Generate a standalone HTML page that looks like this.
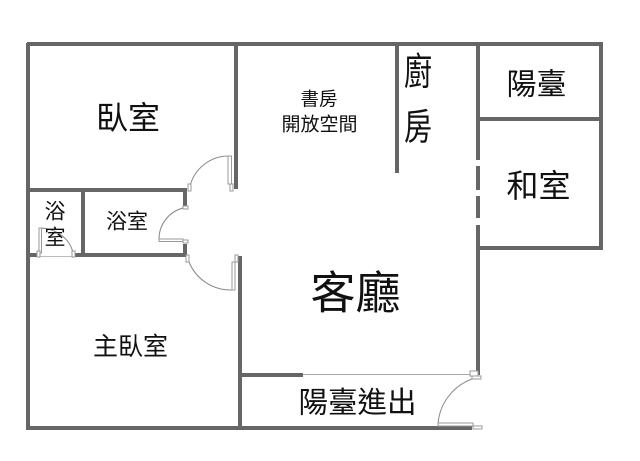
<!DOCTYPE html>
<html><head><meta charset="utf-8"><style>
html,body{margin:0;padding:0;background:#fff;width:640px;height:461px;overflow:hidden}
svg{display:block}
text{font-family:"Liberation Sans","Noto Sans CJK TC",sans-serif;fill:#111;text-anchor:middle;dominant-baseline:central}
.w{stroke:#666;stroke-width:4;fill:none}
.t{stroke:#999;stroke-width:1;fill:#fff}
.a{stroke:#888;stroke-width:1;fill:none}
</style></head><body>
<svg width="640" height="461" viewBox="0 0 640 461">
<g class="w">
<path d="M27 44H603M28 43V430M601 43V249M477 248H603M478 119H601"/>
<path d="M478 43V160M478 166V190M478 196V218M478 225V375"/>
<path d="M397 43V173M236 43V189"/>
<path d="M28 190H187M83 190V255M28 255H37M75 255H187M185 190V207M185 244V255"/>
<path d="M240 256V428M240 375H303M27 428H472"/>
</g>
<path d="M303 374.500H470" stroke="#aaa" stroke-width="1" fill="none"/>
<!-- upper door -->
<path class="a" d="M190 186A40 40 0 0 1 228 156"/>
<rect class="t" x="228" y="156" width="3.500" height="28"/><rect class="t" x="230" y="184" width="3" height="7"/><rect class="t" x="188" y="184" width="3" height="7"/>
<!-- bath door -->
<path class="a" d="M159 239A32 32 0 0 1 183 208"/>
<rect class="t" x="159" y="239" width="24" height="2.500"/><rect class="t" x="183" y="240" width="5" height="3"/><rect class="t" x="183" y="206" width="5" height="3"/>
<!-- lower door -->
<path class="a" d="M189 262A45 45 0 0 0 232 290"/>
<rect class="t" x="232" y="262" width="3" height="28"/><rect class="t" x="235" y="255" width="3" height="7"/><rect class="t" x="186" y="255" width="3" height="7"/>
<!-- small bath door -->
<path class="a" d="M41 228A35 30 0 0 1 73 253"/>
<rect class="t" x="39" y="228" width="2.500" height="25"/>
<path d="M37 256.500H75" stroke="#bbb" stroke-width="1"/>
<rect class="t" x="37" y="251" width="3" height="6"/><rect class="t" x="72" y="251" width="3" height="6"/>
<!-- balcony door -->
<path class="a" d="M438 424A52 52 0 0 1 472 379"/>
<rect class="t" x="470" y="371" width="8" height="5"/><rect class="t" x="472" y="376" width="9" height="3"/>
<rect class="t" x="438" y="423" width="35" height="3"/><rect class="t" x="473" y="426" width="9" height="3"/>
<text x="128" y="118" font-size="32">臥室</text>
<text x="319" y="99" font-size="18.500">書房</text>
<text x="319.500" y="125" font-size="19">開放空間</text>
<text font-size="28" transform="translate(418 73) scale(1 1.35)">廚</text>
<text font-size="28" transform="translate(418 127) scale(1 1.3)">房</text>
<text x="536.500" y="85" font-size="30">陽臺</text>
<text x="538.500" y="186" font-size="32">和室</text>
<text x="55" y="212" font-size="21">浴</text>
<text x="55" y="238" font-size="21">室</text>
<text x="127" y="222" font-size="21">浴室</text>
<text x="355.500" y="293" font-size="45">客廳</text>
<text x="130.500" y="347" font-size="25">主臥室</text>
<text x="357.500" y="403" font-size="29.500">陽臺進出</text>
</svg>
</body></html>
